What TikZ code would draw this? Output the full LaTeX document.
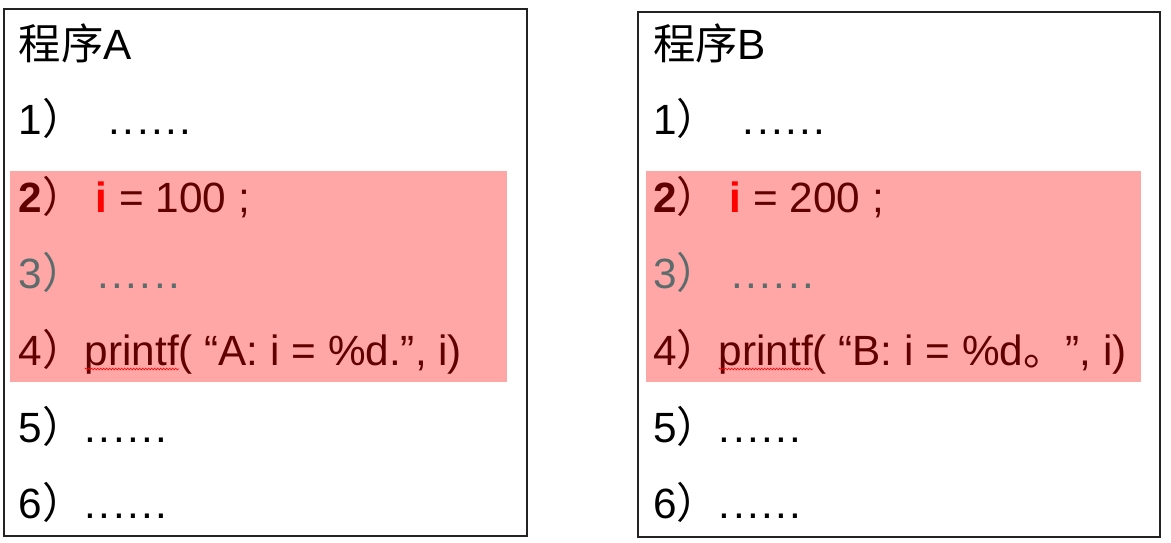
\documentclass[tikz,border=0pt]{standalone}
\usepackage{fontspec}
\setmainfont{Liberation Sans}
\newfontfamily\cjk{Noto Sans CJK SC}
\usetikzlibrary{decorations.pathmorphing}
\definecolor{pinkbg}{RGB}{255,166,166}
\definecolor{dred}{RGB}{96,0,0}
\definecolor{gtxt}{RGB}{92,108,108}
\definecolor{frame}{RGB}{35,35,35}
\newcommand\sixdots{\makebox[14.2pt][l]{.}\makebox[14.2pt][l]{.}\makebox[14.2pt][l]{.}\makebox[14.2pt][l]{.}\makebox[14.2pt][l]{.}\makebox[14.2pt][l]{.}}
\newcommand\cp{{\cjk ）}}
\tikzset{
  txt/.style={anchor=base west, inner sep=0pt, outer sep=0pt, font=\fontsize{42.3}{42.3}\selectfont},
  hl/.style={fill=pinkbg, draw=none},
  progframe/.style={draw=frame, line width=2pt, fill=none},
  wavy/.style={draw=red, line width=0.6pt, decorate, decoration={snake, amplitude=0.9pt, segment length=3pt}},
}
\begin{document}
\begin{tikzpicture}[x=1pt,y=-1pt]
\useasboundingbox (0,0) rectangle (1171,543);
% highlight bands
\fill[hl] (10,171) rectangle (507,382);
\fill[hl] (645.5,171) rectangle (1140.5,382);
% program A
\node[txt] (aT) at (19,60) {{\cjk 程序}A};
\node[txt] (a1) at (19,135) {1\cp\hspace{24pt}\sixdots};
\node[txt,text=dred] (a2) at (19,212) {\textbf{2}\cp\hspace{11pt}\textcolor{red}{\textbf{i}} = 100 ;};
\node[txt,text=gtxt] (a3) at (19,288) {3\cp\hspace{12.5pt}\sixdots};
\node[txt,text=dred] (a4) at (19,365) {4\cp};
\node[txt,text=dred] (a4p) at (a4.base east) {printf};
\node[txt,text=dred] (a4r) at (a4p.base east) {( “A: i = \%d.”, i)};
\draw[wavy] ([yshift=-4pt]a4p.base west) -- ([yshift=-4pt]a4p.base east);
\node[txt] (a5) at (19,442) {5\cp\sixdots};
\node[txt] (a6) at (19,518) {6\cp\sixdots};
% program B
\node[txt] (bT) at (653,60) {{\cjk 程序}B};
\node[txt] (b1) at (653,135) {1\cp\hspace{24pt}\sixdots};
\node[txt,text=dred] (b2) at (653,212) {\textbf{2}\cp\hspace{11pt}\textcolor{red}{\textbf{i}} = 200 ;};
\node[txt,text=gtxt] (b3) at (653,288) {3\cp\hspace{12.5pt}\sixdots};
\node[txt,text=dred] (b4) at (653,365) {4\cp};
\node[txt,text=dred] (b4p) at (b4.base east) {printf};
\node[txt,text=dred] (b4r) at (b4p.base east) {( “B: i = \%d{\cjk 。}”, i)};
\draw[wavy] ([yshift=-4pt]b4p.base west) -- ([yshift=-4pt]b4p.base east);
\node[txt] (b5) at (653,442) {5\cp\sixdots};
\node[txt] (b6) at (653,518) {6\cp\sixdots};
% frames
\draw[progframe] (4,9.5) rectangle (527,536);
\draw[progframe] (637.5,12) rectangle (1159.5,537);
\end{tikzpicture}
\end{document}
